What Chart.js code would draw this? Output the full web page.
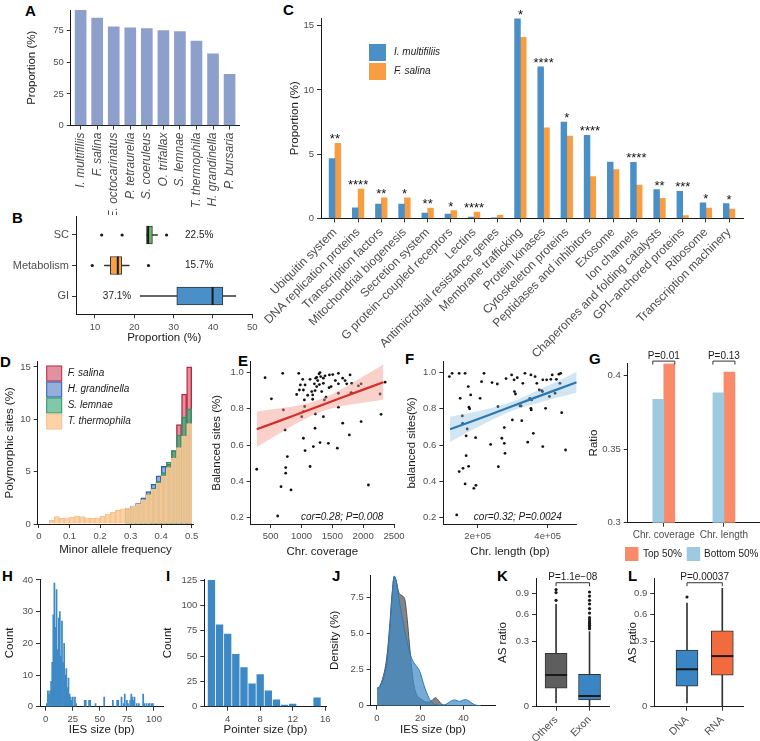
<!DOCTYPE html>
<html>
<head>
<meta charset="utf-8">
<script src="https://cdn.jsdelivr.net/npm/chart.js@4.4.1/dist/chart.umd.min.js"></script>
<style>
  html, body { margin:0; padding:0; background:#fff; }
  #wrap { position:relative; width:760px; height:741px; overflow:hidden; background:#fff; }
  #wrap canvas { position:absolute; }
  .pl { position:absolute; font-family:'Liberation Sans', Arial, sans-serif; font-weight:bold; font-size:15px; line-height:15px; color:#000; }
</style>
</head>
<body>
<div id="wrap">
  <div class="pl" style="left:25px;top:3px">A</div>
  <div class="pl" style="left:12px;top:210px">B</div>
  <div class="pl" style="left:283px;top:2px">C</div>
  <div class="pl" style="left:0px;top:354px">D</div>
  <div class="pl" style="left:238px;top:353px">E</div>
  <div class="pl" style="left:405px;top:351px">F</div>
  <div class="pl" style="left:589px;top:351px">G</div>
  <div class="pl" style="left:2px;top:568px">H</div>
  <div class="pl" style="left:166px;top:568px">I</div>
  <div class="pl" style="left:332px;top:568px">J</div>
  <div class="pl" style="left:497px;top:568px">K</div>
  <div class="pl" style="left:628px;top:568px">L</div>
</div>
<script>
// ================= DATA =================
// Panel A
const A_species = ['I. multifiliis','F. salina','E. octocarinatus','P. tetraurelia','S. coeruleus','O. trifallax','S. lemnae','T. thermophila','H. grandinella','P. bursaria'];
const A_proportion = [91.3, 85.0, 78.2, 77.4, 76.8, 75.2, 74.4, 66.8, 56.7, 40.6];
const A_yticks = [0, 25, 50, 75];

// Panel B (box plots, bottom to top)
const B_groups = ['GI', 'Metabolism', 'SC'];
const B_whiskers = [[21.5, 45.8], [12.4, 18.7], [23.1, 25.9]];
const B_boxes = [[30.8, 42.5], [13.9, 16.8], [23.1, 24.6]];
const B_medians = [39.9, 15.8, 23.5];
const B_outliers = [[], [9.3, 23.6], [11.7, 16.9, 28.2]];
const B_notes = ['37.1%', '15.7%', '22.5%'];
const B_notePos = [15.6, 36.5, 36.5];
const B_xticks = [10, 20, 30, 40, 50];

// Panel C
const C_categories = ['Ubiquitin system','DNA replication proteins','Transcription factors','Mitochondrial biogenesis','Secretion system','G protein\u2212coupled receptors','Lectins','Antimicrobial resistance genes','Membrane trafficking','Protein kinases','Cytoskeleton proteins','Peptidases and inhibitors','Exosome','Ion channels','Chaperones and folding catalysts','GPI\u2212anchored proteins','Ribosome','Transcription machinery'];
const C_series = ['I. multifiliis', 'F. salina'];
const C_imultifiliis = [4.65, 0.83, 1.12, 1.12, 0.42, 0.34, 0.10, 0.02, 15.53, 11.80, 7.50, 6.47, 4.39, 4.37, 2.24, 2.10, 1.22, 1.15];
const C_fsalina = [5.85, 2.29, 1.61, 1.61, 0.81, 0.60, 0.50, 0.24, 14.10, 7.06, 6.40, 3.25, 3.80, 2.60, 1.56, 0.21, 0.80, 0.73];
const C_signif = ['**','****','**','*','**','*','****','','*','****','*','****','','****','**','***','*','*'];
const C_yticks = [0, 5, 10, 15];

// Panel D (histogram bins of minor allele frequency)
const D_species = ['F. salina', 'H. grandinella', 'S. lemnae', 'T. thermophila'];
const D_maf = [0.0083,0.025,0.0417,0.0583,0.075,0.0917,0.1083,0.125,0.1417,0.1583,0.175,0.1917,0.2083,0.225,0.2417,0.2583,0.275,0.2917,0.3083,0.325,0.3417,0.3583,0.375,0.3917,0.4083,0.425,0.4417,0.4583,0.475,0.4917];
const D_tthermophila = [0,0,0.35,0.7,0.55,0.6,0.65,0.75,0.7,0.6,0.55,0.6,0.75,0.95,1.15,1.3,1.45,1.55,1.7,1.95,2.3,2.8,3.3,3.9,4.6,5.4,6.3,7.3,8.4,9.6];
const D_slemnae = [null,null,null,null,null,null,null,null,null,null,null,null,null,null,null,null,null,1.5,1.65,1.9,2.3,2.85,3.4,4.1,4.9,5.9,7.0,8.5,10.2,11.0];
const D_hgrandinella = [null,null,null,null,null,null,null,null,null,null,null,null,null,null,null,null,null,1.5,1.7,2.0,2.5,3.1,3.8,4.6,5.5,5.3,5.6,6.5,7.5,8.5];
const D_fsalina = [null,null,null,null,null,null,null,null,null,null,null,null,null,null,null,null,null,null,null,null,null,null,3.2,3.9,4.7,5.7,7.0,9.5,12.4,15.0];
const D_xticks = [0, 0.1, 0.2, 0.3, 0.4, 0.5];
const D_xlabels = ['0', '0.1', '0.2', '0.3', '0.4', '0.5'];
const D_yticks = [0, 5, 10, 15];

// Panel E
const E_coverage = [273,408,511,613,667,694,705,732,743,743,770,829,921,954,965,981,1003,1019,1030,1030,1030,1046,1051,1057,1057,1100,1138,1138,1165,1181,1181,1192,1208,1219,1219,1224,1230,1246,1246,1262,1284,1289,1300,1300,1311,1327,1354,1354,1354,1370,1381,1397,1435,1446,1452,1479,1506,1549,1581,1598,1598,1598,1598,1668,1668,1706,1733,1776,1787,1803,1814,1814,1922,1966,1966,2085,2274,2290,2355];
const E_balanced = [0.467,0.972,0.855,0.209,0.371,0.996,0.794,0.684,0.476,0.445,0.537,0.353,0.879,0.996,0.904,0.932,0.757,0.963,0.904,0.785,0.638,0.849,0.813,0.932,0.570,0.875,0.963,0.482,0.895,0.877,0.853,0.592,0.938,0.901,0.693,0.772,0.969,0.974,0.923,0.956,0.993,0.934,1.000,0.614,0.978,0.895,0.969,0.941,0.757,0.849,0.982,0.864,0.610,0.917,0.987,0.923,0.989,0.956,0.583,0.996,0.938,0.886,0.809,0.969,0.721,0.956,0.938,0.656,0.987,0.890,0.941,0.886,0.927,0.938,0.730,0.380,0.882,0.770,0.947];
const E_fitCov = [273, 600, 900, 1300, 1700, 2000, 2327];
const E_fitVal = [0.687, 0.728, 0.766, 0.817, 0.868, 0.906, 0.947];
const E_fitLow = [0.589, 0.656, 0.716, 0.782, 0.818, 0.834, 0.852];
const E_fitHigh = [0.786, 0.800, 0.816, 0.852, 0.918, 0.978, 1.045];
const E_xticks = [500, 1000, 1500, 2000, 2500];
const EF_yticks = [0.2, 0.4, 0.6, 0.8, 1.0];
const EF_ylabels = ['0.2', '0.4', '0.6', '0.8', '1.0'];

// Panel F
const F_length = [119000,127000,140000,147000,147000,150000,156000,157000,158000,164000,164000,167000,167000,170000,173000,174000,175000,177000,180000,189000,194000,195000,207000,211000,218000,237000,241000,256000,258000,259000,269000,276000,276000,278000,281000,297000,299000,304000,305000,308000,313000,321000,324000,326000,329000,335000,343000,349000,352000,352000,353000,354000,359000,364000,369000,376000,383000,385000,386000,386000,394000,397000,405000,409000,413000,421000,425000,432000,435000,437000,440000,451000];
const F_balanced = [0.978,0.996,0.215,0.996,0.454,0.858,0.761,0.720,0.472,0.996,0.386,0.651,0.542,0.689,0.923,0.483,0.809,0.800,0.877,0.362,0.641,0.378,0.858,0.950,0.996,0.604,0.945,0.937,0.812,0.481,0.638,0.697,0.610,0.555,0.967,0.987,0.739,0.960,0.895,0.882,0.972,0.816,0.816,0.735,0.941,0.996,0.616,0.858,0.987,0.803,0.794,0.849,0.665,0.978,0.941,0.904,0.901,0.895,0.960,0.592,0.803,0.960,0.868,0.963,0.987,0.886,0.963,0.991,0.941,0.996,0.779,0.573];
const F_fitLen = [121000, 180000, 240000, 300000, 360000, 420000, 483000];
const F_fitVal = [0.687, 0.729, 0.772, 0.816, 0.859, 0.902, 0.947];
const F_fitLow = [0.617, 0.679, 0.739, 0.791, 0.826, 0.858, 0.890];
const F_fitHigh = [0.757, 0.779, 0.805, 0.841, 0.892, 0.945, 1.005];
const F_xticks = [200000, 400000];
const F_xlabels = ['2e+05', '4e+05'];

// Panel G
const G_categories = ['Chr. coverage', 'Chr. length'];
const G_series = ['Top 50%', 'Bottom 50%'];
const G_top = [0.4082, 0.4025];
const G_bottom = [0.3840, 0.3884];
const G_pvalues = ['P=0.01', 'P=0.13'];
const G_yticks = [0.3, 0.35, 0.4];
const G_ylabels = ['0.3', '0.35', '0.4'];

// Panel H
const H_size = [1,2,3,4,5,6,7,8,9,10,11,12,13,14,15,16,17,18,19,20,21,22,23,24,25,27,28,36,37,40,41,46,54,62,66,67,70,72,73,75,76,78,79,80,81,82,84,86,90,91,93,95,96,98,99];
const H_count = [1,5,4,5,8,14,29,39,25,37,18,28,30,16,27,14,20,10,12,6,9,4,3,2,3,3,1,2,2,2,2,1,3,2,2,2,3,1,4,2,1,2,4,3,2,3,1,1,4,1,1,1,1,1,1];
const H_xticks = [0, 25, 50, 75, 100];
const H_yticks = [0, 10, 20, 30, 40];

// Panel I
const I_size = [2,3,4,5,6,7,8,9,10,11,12,13,14,15];
const I_count = [125,81,72,52,39,23,32,16,7,2,3,0,0,9];
const I_xticks = [4, 8, 12, 16];
const I_yticks = [0, 25, 50, 75, 100, 125];

// Panel J (density curves)
const J_size = [0,1,2,3,4,5,6,7,8,9,10,11,12,13,14,15,16,17,18,19,20,21,22,23,24,25,26,27,28,29,30,31,32,33,34,35,36,37,38,39,40,41,42,43,44,45,46,47,48];
const J_grey = [1.2,1.3,1.6,2.1,2.8,4.0,5.8,7.8,9.0,8.6,7.9,7.7,7.6,7.3,6.0,4.3,2.7,1.5,0.9,0.6,0.5,0.4,0.3,0.25,0.25,0.3,0.45,0.55,0.45,0.25,0.1,0.03,0,0,0,0,0,0,0,0,0,0,0,0,0,0,0,0,0];
const J_blue = [1.2,1.3,1.5,1.9,2.4,3.5,5.4,7.6,9.0,8.6,7.6,6.7,5.9,5.1,4.4,3.8,3.3,3.0,2.8,2.6,2.3,1.8,1.3,0.9,0.55,0.3,0.15,0.08,0.05,0.03,0.03,0.05,0.1,0.2,0.3,0.38,0.4,0.35,0.3,0.33,0.4,0.42,0.38,0.28,0.17,0.08,0.03,0.01,0];
const J_xticks = [0, 20, 40];
const J_yticks = [0, 2.5, 5, 7.5];
const J_ylabels = ['0', '2.5', '5.0', '7.5'];

// Panel K
const K_groups = ['Others', 'Exon'];
const K_whiskers = [[0.001, 0.74], [0, 0.40]];
const K_boxes = [[0.024, 0.201], [0.0032, 0.074]];
const K_medians = [0.071, 0.0081];
const K_outliers = [[0.80, 0.92, 0.97], [0.43, 0.45, 0.47, 0.49, 0.51, 0.53, 0.56, 0.62, 0.68, 0.745, 0.80, 0.865, 0.93]];
const K_pvalue = 'P=1.1e\u221208';

// Panel L
const L_groups = ['DNA', 'RNA'];
const L_whiskers = [[0.001, 0.76], [0, 0.99]];
const L_boxes = [[0.030, 0.227], [0.070, 0.408]];
const L_medians = [0.099, 0.181];
const L_outliers = [[0.85], []];
const L_pvalue = 'P=0.00037';
const KL_yticks = [0, 0.3, 0.6, 0.9];
const KL_ylabels = ['0', '0.3', '0.6', '0.9'];

// ================= STYLE =================
const FONT = "'Liberation Sans', Arial, Helvetica, sans-serif";
const GREY = '#4d4d4d';
const BLUE = '#4A8FC6';
Chart.defaults.font.family = FONT;
Chart.defaults.color = GREY;
Chart.defaults.plugins.legend.display = false;
Chart.defaults.plugins.tooltip.enabled = false;
Chart.defaults.events = [];
Chart.defaults.animation = false;

// square-root value scale (for K and L)
class SqrtScale extends Chart.LinearScale {
  getPixelForValue(v) {
    const a = Math.sqrt(Math.max(this.min, 0)), b = Math.sqrt(this.max);
    return this.getPixelForDecimal((Math.sqrt(Math.max(v, 0)) - a) / (b - a));
  }
  getValueForPixel(p) {
    const a = Math.sqrt(Math.max(this.min, 0)), b = Math.sqrt(this.max);
    const s = a + this.getDecimalForPixel(p) * (b - a);
    return s * s;
  }
}
SqrtScale.id = 'sqrt';
SqrtScale.defaults = Chart.LinearScale.defaults;
Chart.register(SqrtScale);

const wrap = document.getElementById('wrap');

function axis(o) {
  return {
    type: o.type || 'linear',
    min: o.min, max: o.max,
    offset: false, bounds: 'data',
    grid: { display: true, drawOnChartArea: false, drawTicks: true, tickLength: 4, color: '#333', lineWidth: 1, offset: false },
    border: { display: true, color: '#1a1a1a', width: 1 },
    ticks: {
      autoSkip: false, padding: 3, color: GREY,
      font: Object.assign({ size: 9.5 }, o.font || {}),
      maxRotation: o.rot || 0, minRotation: o.rot || 0,
      callback: (v, i) => (o.labels ? o.labels[i] : String(v))
    },
    afterBuildTicks: s => { s.ticks = o.ticks.map(v => ({ value: v })); },
    title: { display: !!o.title, text: o.title || '', color: '#1a1a1a', font: { size: 11.5 }, padding: 0 }
  };
}

function makeChart(box, area, config, tpos) {
  const [L, T, W, H] = box;
  const cv = document.createElement('canvas');
  cv.width = W; cv.height = H;
  cv.style.left = L + 'px'; cv.style.top = T + 'px';
  cv.style.width = W + 'px'; cv.style.height = H + 'px';
  wrap.appendChild(cv);
  const o = config.options;
  o.responsive = false; o.maintainAspectRatio = false; o.animation = false; o.devicePixelRatio = 1;
  o.layout = { padding: { left: 0, top: area[1] - T, right: L + W - area[2], bottom: 0 } };
  const yW = area[0] - L, xH = T + H - area[3];
  o.scales.x.afterFit = s => { s.height = xH; s.paddingLeft = 0; s.paddingRight = 0; };
  o.scales.y.afterFit = s => { s.width = yW; s.paddingTop = 0; s.paddingBottom = 0; };
  tpos = tpos || {};
  const half = 11.5 * 1.2 / 2;
  if (tpos.ytx !== undefined) o.scales.y.title.padding = { top: tpos.ytx - L - half, bottom: 0 };
  if (tpos.xty !== undefined) o.scales.x.title.padding = { top: 0, bottom: T + H - tpos.xty - half };
  return new Chart(cv, config);
}

function overlay(fn) {
  return { id: 'overlay', afterDraw(chart) { const c = chart.ctx; c.save(); fn(chart, c, chart.scales.x, chart.scales.y); c.restore(); } };
}
function text(c, s, x, y, o) {
  o = o || {};
  c.font = (o.style || 'normal') + ' normal ' + (o.size || 10) + 'px ' + FONT;
  c.fillStyle = o.color || '#1a1a1a';
  c.textAlign = o.align || 'left';
  c.textBaseline = o.base || 'middle';
  c.fillText(s, x, y);
}
function boxSets(boxes, whiskers, outliers, colors, thick, horiz) {
  const key = horiz ? (i, v) => ({ y: i + 1, x: v }) : (i, v) => ({ x: i + 1, y: v });
  const pts = [];
  outliers.forEach((arr, i) => arr.forEach(v => pts.push(key(i, v))));
  const ia = horiz ? 'y' : 'x';
  return [
    { type: 'scatter', data: pts, pointRadius: 1.6, backgroundColor: '#1a1a1a', borderColor: '#1a1a1a', borderWidth: 0, order: 0 },
    { type: 'bar', indexAxis: ia, grouped: false, barThickness: thick, data: boxes.map((b, i) => key(i, b)), backgroundColor: colors, borderColor: '#333', borderWidth: 1, borderSkipped: false, order: 1 },
    { type: 'bar', indexAxis: ia, grouped: false, barThickness: 1, data: whiskers.map((w, i) => key(i, w)), backgroundColor: '#333', borderWidth: 0, order: 2 }
  ];
}
function medians(c, x, y, meds, half, horiz) {
  c.strokeStyle = '#1a1a1a'; c.lineWidth = 2;
  meds.forEach((m, i) => {
    c.beginPath();
    if (horiz) { const px = x.getPixelForValue(m), py = y.getPixelForValue(i + 1); c.moveTo(px, py - half); c.lineTo(px, py + half); }
    else { const px = x.getPixelForValue(i + 1), py = y.getPixelForValue(m); c.moveTo(px - half, py); c.lineTo(px + half, py); }
    c.stroke();
  });
}
function bracket(c, x1, x2, yb, label, size) {
  c.strokeStyle = '#333'; c.lineWidth = 1;
  c.beginPath(); c.moveTo(x1, yb + 3.5); c.lineTo(x1, yb); c.lineTo(x2, yb); c.lineTo(x2, yb + 3.5); c.stroke();
  text(c, label, (x1 + x2) / 2, yb - 2.5, { size: size || 10, align: 'center', base: 'alphabetic' });
}

// ================= PANEL A =================
makeChart([0, 0, 250, 215], [70.7, 10, 239.5, 125.5], {
  type: 'bar',
  data: { datasets: [{ data: A_species.map((s, i) => ({ x: i + 1, y: A_proportion[i] })), backgroundColor: '#8DA0CB', barThickness: 11 }] },
  options: { scales: {
    x: axis({ min: 0.4, max: 10.6, ticks: A_species.map((s, i) => i + 1), labels: A_species, rot: 90, font: { style: 'italic', size: 12 } }),
    y: axis({ min: 0, max: 91.5, ticks: A_yticks, title: 'Proportion (%)' })
  } }
}, { ytx: 32 });

// ================= PANEL B =================
makeChart([0, 205, 260, 145], [76, 216.7, 252.5, 314.3], {
  type: 'bar',
  data: { datasets: boxSets(B_boxes, B_whiskers, B_outliers, ['#4A8FC7', '#F8A046', '#62B862'], 18, true) },
  options: { scales: {
    x: axis({ min: 5.17, max: 50.05, ticks: B_xticks, title: 'Proportion (%)' }),
    y: axis({ min: 0.4, max: 3.6, ticks: [1, 2, 3], labels: B_groups, font: { size: 11 } })
  } },
  plugins: [overlay((ch, c, x, y) => {
    medians(c, x, y, B_medians, 9, true);
    B_notes.forEach((s, i) => text(c, s, x.getPixelForValue(B_notePos[i]), y.getPixelForValue(i + 1), { size: 10, align: 'center' }));
  })]
}, { xty: 337.7 });

// ================= PANEL C =================
const C_colors = ['#4A8FC6', '#F99D42'];
makeChart([262, 0, 498, 365], [321, 18, 743, 218.4], {
  type: 'bar',
  data: { datasets: [
    { data: C_imultifiliis.map((v, i) => ({ x: i + 1, y: v })), backgroundColor: C_colors[0], barThickness: 5.8 },
    { data: C_fsalina.map((v, i) => ({ x: i + 1, y: v })), backgroundColor: C_colors[1], barThickness: 5.8 }
  ] },
  options: { scales: {
    x: axis({ min: 0.4, max: 18.6, ticks: C_categories.map((s, i) => i + 1), labels: C_categories, rot: 45, font: { size: 12 } }),
    y: axis({ min: 0, max: 15.6, ticks: C_yticks, title: 'Proportion (%)' })
  } },
  plugins: [overlay((ch, c, x, y) => {
    C_signif.forEach((s, i) => {
      if (!s) return;
      const top = y.getPixelForValue(Math.max(C_imultifiliis[i], C_fsalina[i]));
      text(c, s, x.getPixelForValue(i + 1), top, { size: 13, align: 'center', base: 'alphabetic', color: '#111' });
    });
    const ox = 262, oy = 0;
    c.fillStyle = C_colors[0]; c.fillRect(369 - ox, 44 - oy, 17, 17);
    c.fillStyle = C_colors[1]; c.fillRect(369 - ox, 63 - oy, 17, 17);
    text(c, C_series[0], 394 - ox, 52.5 - oy, { style: 'italic', size: 10 });
    text(c, C_series[1], 394 - ox, 71.5 - oy, { style: 'italic', size: 10 });
  })]
}, { ytx: 295 });

// ================= PANEL D =================
const D_fill = ['rgba(200,55,80,0.55)', 'rgba(60,110,190,0.55)', 'rgba(50,160,110,0.6)', 'rgba(252,202,150,0.85)'];
const D_line = ['#B7263C', '#2B5DAE', '#24966A', '#F5C08E'];
const D_values = [D_fsalina, D_hgrandinella, D_slemnae, D_tthermophila];
makeChart([0, 350, 240, 210], [37.7, 361.7, 193.3, 524], {
  type: 'bar',
  data: { datasets: D_values.map((vals, k) => ({
    data: D_maf.map((m, i) => ({ x: m, y: vals[i] })),
    backgroundColor: D_fill[k], borderColor: D_line[k], borderWidth: 0.8,
    grouped: false, barPercentage: 1, categoryPercentage: 1, order: 4 - k
  })) },
  options: { scales: {
    x: axis({ min: -0.004, max: 0.5052, ticks: D_xticks, labels: D_xlabels, title: 'Minor allele frequency' }),
    y: axis({ min: 0, max: 15.5, ticks: D_yticks, title: 'Polymorphic sites (%)' })
  } },
  plugins: [overlay((ch, c) => {
    const ox = 0, oy = 350;
    D_species.forEach((s, k) => {
      c.fillStyle = D_fill[k]; c.strokeStyle = D_line[k]; c.lineWidth = 1;
      c.fillRect(46.7 - ox, 366 + 16 * k - oy, 15, 15);
      c.strokeRect(46.7 - ox, 366 + 16 * k - oy, 15, 15);
      text(c, s, 67.7 - ox, 373.5 + 16 * k - oy, { style: 'italic', size: 10 });
    });
  })]
}, { ytx: 10, xty: 550 });

// ================= PANEL E =================
makeChart([195, 350, 215, 210], [250.7, 361.7, 394, 524], {
  type: 'scatter',
  data: { datasets: [
    { type: 'line', data: E_fitCov.map((v, i) => ({ x: v, y: E_fitVal[i] })), borderColor: '#D42F26', borderWidth: 2.2, pointRadius: 0, fill: false, order: 0 },
    { type: 'line', data: E_fitCov.map((v, i) => ({ x: v, y: E_fitHigh[i] })), borderColor: 'rgba(0,0,0,0)', borderWidth: 1, pointRadius: 0, fill: '+1', backgroundColor: 'rgba(244,150,140,0.45)', cubicInterpolationMode: 'monotone', order: 1 },
    { type: 'line', data: E_fitCov.map((v, i) => ({ x: v, y: E_fitLow[i] })), borderColor: 'rgba(0,0,0,0)', borderWidth: 1, pointRadius: 0, fill: false, cubicInterpolationMode: 'monotone', order: 1 },
    { data: E_coverage.map((v, i) => ({ x: v, y: E_balanced[i] })), pointRadius: 1.4, backgroundColor: '#111', borderColor: '#111', borderWidth: 0, order: 2 }
  ] },
  options: { scales: {
    x: axis({ min: 175, max: 2500, ticks: E_xticks, title: 'Chr. coverage' }),
    y: axis({ min: 0.165, max: 1.06, ticks: EF_yticks, labels: EF_ylabels, title: 'Balanced sites (%)' })
  } },
  plugins: [overlay((ch, c, x, y) => {
    text(c, 'cor=0.28; P=0.008', x.getPixelForValue(2327), y.getPixelForValue(0.2), { style: 'italic', size: 10, align: 'right' });
  })]
}, { ytx: 217, xty: 552 });

// ================= PANEL F =================
makeChart([395, 350, 190, 210], [443.3, 361.7, 576.7, 524], {
  type: 'scatter',
  data: { datasets: [
    { type: 'line', data: F_fitLen.map((v, i) => ({ x: v, y: F_fitVal[i] })), borderColor: '#2A77B4', borderWidth: 2.2, pointRadius: 0, fill: false, order: 0 },
    { type: 'line', data: F_fitLen.map((v, i) => ({ x: v, y: F_fitHigh[i] })), borderColor: 'rgba(0,0,0,0)', borderWidth: 1, pointRadius: 0, fill: '+1', backgroundColor: 'rgba(140,190,225,0.4)', cubicInterpolationMode: 'monotone', order: 1 },
    { type: 'line', data: F_fitLen.map((v, i) => ({ x: v, y: F_fitLow[i] })), borderColor: 'rgba(0,0,0,0)', borderWidth: 1, pointRadius: 0, fill: false, cubicInterpolationMode: 'monotone', order: 1 },
    { data: F_length.map((v, i) => ({ x: v, y: F_balanced[i] })), pointRadius: 1.4, backgroundColor: '#111', borderColor: '#111', borderWidth: 0, order: 2 }
  ] },
  options: { scales: {
    x: axis({ min: 101700, max: 482900, ticks: F_xticks, labels: F_xlabels, title: 'Chr. length (bp)' }),
    y: axis({ min: 0.165, max: 1.06, ticks: EF_yticks, labels: EF_ylabels, title: 'balanced sites(%)' })
  } },
  plugins: [overlay((ch, c, x, y) => {
    text(c, 'cor=0.32; P=0.0024', x.getPixelForValue(440000), y.getPixelForValue(0.2), { style: 'italic', size: 10, align: 'right' });
  })]
}, { ytx: 411.7, xty: 552 });

// ================= PANEL G =================
const G_colors = ['#F98B6B', '#9ECAE1'];
makeChart([585, 345, 175, 225], [627.7, 363.3, 760, 522.7], {
  type: 'bar',
  data: { datasets: [
    { data: G_bottom.map((v, i) => ({ x: i + 1, y: v })), backgroundColor: G_colors[1], barThickness: 11 },
    { data: G_top.map((v, i) => ({ x: i + 1, y: v })), backgroundColor: G_colors[0], barThickness: 11 }
  ] },
  options: { scales: {
    x: axis({ min: 0.4, max: 2.6, ticks: [1, 2], labels: G_categories, font: { size: 10 } }),
    y: axis({ min: 0.3, max: 0.4085, ticks: G_yticks, labels: G_ylabels, title: 'Ratio' })
  } },
  plugins: [overlay((ch, c, x, y) => {
    G_pvalues.forEach((p, i) => {
      const cx = x.getPixelForValue(i + 1);
      bracket(c, cx - 11, cx + 11, y.getPixelForValue(0.41), p, 10);
    });
    const ox = 585, oy = 345;
    c.fillStyle = G_colors[0]; c.fillRect(625 - ox, 547 - oy, 13.5, 14);
    text(c, G_series[0], 643 - ox, 554.5 - oy, { size: 10 });
    c.fillStyle = G_colors[1]; c.fillRect(686.7 - ox, 547 - oy, 13.5, 14);
    text(c, G_series[1], 704 - ox, 554.5 - oy, { size: 10 });
  })]
}, { ytx: 594 });

// ================= PANEL H =================
makeChart([0, 565, 170, 176], [40, 579, 163.3, 706.7], {
  type: 'bar',
  data: { datasets: [{ data: H_size.map((v, i) => ({ x: v, y: H_count[i] })), backgroundColor: '#3F8AC6', barPercentage: 1, categoryPercentage: 1 }] },
  options: { scales: {
    x: axis({ min: -5.3, max: 108.6, ticks: H_xticks, title: 'IES size (bp)' }),
    y: axis({ min: 0, max: 40.3, ticks: H_yticks, title: 'Count' })
  } }
}, { ytx: 10, xty: 729.5 });

// ================= PANEL I =================
makeChart([160, 565, 175, 176], [204.3, 579, 326.5, 706.7], {
  type: 'bar',
  data: { datasets: [{ data: I_size.map((v, i) => ({ x: v, y: I_count[i] })), backgroundColor: '#3D89C6', barPercentage: 0.9, categoryPercentage: 1 }] },
  options: { scales: {
    x: axis({ min: 1.12, max: 16.16, ticks: I_xticks, title: 'Pointer size (bp)' }),
    y: axis({ min: 0, max: 126, ticks: I_yticks, title: 'Count' })
  } }
}, { ytx: 167.5, xty: 729.5 });

// ================= PANEL J =================
makeChart([325, 565, 175, 176], [370.7, 575, 495, 705.7], {
  type: 'line',
  data: { datasets: [
    { data: J_size.map((v, i) => ({ x: v, y: J_blue[i] })), borderColor: '#2E78B8', borderWidth: 1, backgroundColor: 'rgba(62,138,200,0.72)', fill: 'origin', pointRadius: 0, cubicInterpolationMode: 'monotone', order: 0 },
    { data: J_size.map((v, i) => ({ x: v, y: J_grey[i] })), borderColor: '#555', borderWidth: 1, backgroundColor: 'rgba(112,112,112,0.85)', fill: 'origin', pointRadius: 0, cubicInterpolationMode: 'monotone', order: 1 }
  ] },
  options: { scales: {
    x: axis({ min: -2.9, max: 54.6, ticks: J_xticks, title: 'IES size (bp)' }),
    y: axis({ min: 0, max: 9.08, ticks: J_yticks, labels: J_ylabels, title: 'Density (%)' })
  } }
}, { ytx: 335, xty: 729.5 });

// ================= PANEL K =================
makeChart([495, 565, 125, 176], [536, 578.3, 609.6, 706.7], {
  type: 'bar',
  data: { datasets: boxSets(K_boxes, K_whiskers, K_outliers, ['#5E5E5E', '#3A86C5'], 22, false) },
  options: { scales: {
    x: axis({ min: 0.4, max: 2.6, ticks: [1, 2], labels: K_groups, rot: 45, font: { size: 10.5 } }),
    y: axis({ type: 'sqrt', min: 0, max: 1.165, ticks: KL_yticks, labels: KL_ylabels, title: 'AS ratio' })
  } },
  plugins: [overlay((ch, c, x, y) => {
    medians(c, x, y, K_medians, 11, false);
    bracket(c, x.getPixelForValue(1), x.getPixelForValue(2), y.getPixelForValue(1.086), K_pvalue, 10);
  })]
}, { ytx: 503 });

// ================= PANEL L =================
makeChart([620, 565, 140, 176], [654.3, 578.3, 743.3, 706.7], {
  type: 'bar',
  data: { datasets: boxSets(L_boxes, L_whiskers, L_outliers, ['#3A86C5', '#F26B3E'], 22, false) },
  options: { scales: {
    x: axis({ min: 0.074, max: 2.595, ticks: [1, 2], labels: L_groups, rot: 45, font: { size: 10.5 } }),
    y: axis({ type: 'sqrt', min: 0, max: 1.165, ticks: KL_yticks, labels: KL_ylabels, title: 'AS ratio' })
  } },
  plugins: [overlay((ch, c, x, y) => {
    medians(c, x, y, L_medians, 11, false);
    bracket(c, x.getPixelForValue(1), x.getPixelForValue(2), y.getPixelForValue(1.086), L_pvalue, 10);
  })]
}, { ytx: 633 });
</script>
</body>
</html>
